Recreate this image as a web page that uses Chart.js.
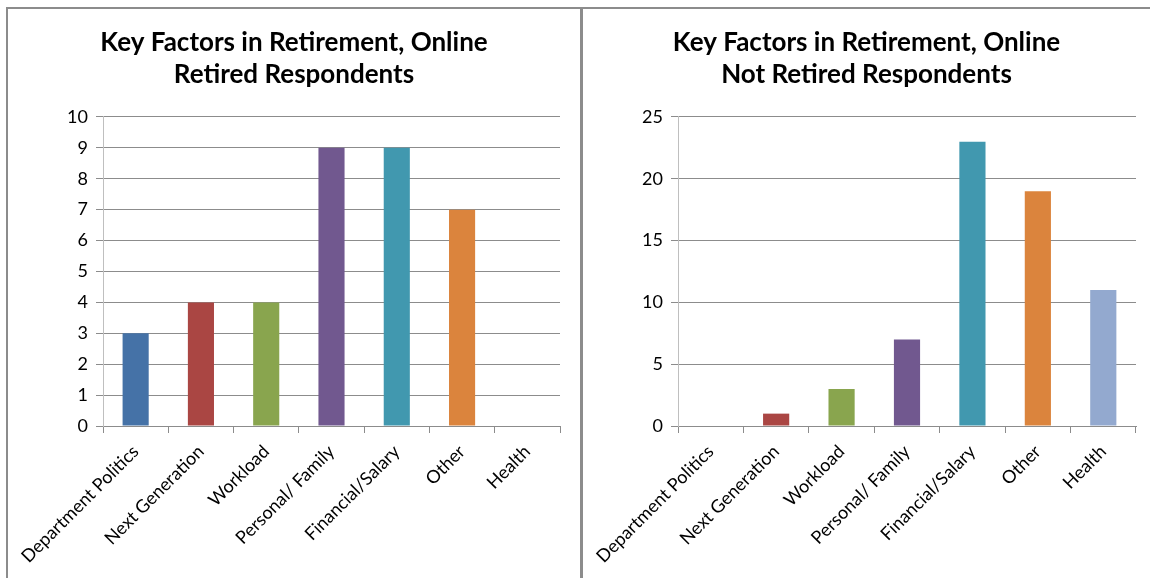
<!DOCTYPE html>
<html lang="en">
<head>
    <meta charset="UTF-8">
    <title>Key Factors in Retirement, Online</title>
    <script src="https://cdn.jsdelivr.net/npm/chart.js"></script>
    <style>
        body { margin: 0; background: #fff; width: 1150px; height: 578px; overflow: hidden; position: relative; }
        .rule { position: absolute; background: #8c8c8c; }
        .panel { position: absolute; }
    </style>
</head>
<body>
    <!-- frame lines -->
    <div class="rule" style="left:6px; top:7px; width:1144px; height:2px;"></div>
    <div class="rule" style="left:6px; top:7px; width:2px; height:571px;"></div>
    <div class="rule" style="left:580px; top:7px; width:3px; height:571px;"></div>

    <div class="panel" style="left:9px; top:9px; width:570px; height:569px;"><canvas id="retiredChart"></canvas></div>
    <div class="panel" style="left:583px; top:9px; width:567px; height:569px;"><canvas id="notRetiredChart"></canvas></div>

    <script>
        const categories = ['Department Politics', 'Next Generation', 'Workload', 'Personal/ Family', 'Financial/Salary', 'Other', 'Health'];
        const retiredValues = [3, 4, 4, 9, 9, 7, 0];
        const notRetiredValues = [0, 1, 3, 7, 23, 19, 11];
        const barColors = ['#4572A7', '#AA4643', '#89A54E', '#71588F', '#4198AF', '#DB843D', '#93A9CF'];

        const FONT = 'Lato, "Open Sans", sans-serif';

        // side padding is symmetric so the title stays centred on the panel
        function makeChart(id, title, values, max, step, axisWidth, pad) {
            return new Chart(document.getElementById(id), {
                type: 'bar',
                data: {
                    labels: categories,
                    datasets: [{
                        data: values,
                        backgroundColor: barColors,
                        categoryPercentage: 1,
                        barPercentage: 0.4
                    }]
                },
                options: {
                    responsive: true,
                    maintainAspectRatio: false,
                    animation: false,
                    layout: { padding: { left: pad, right: pad, top: 0, bottom: 0 } },
                    plugins: {
                        legend: { display: false },
                        tooltip: { enabled: false },
                        title: {
                            display: true,
                            text: title,
                            color: '#000',
                            font: { family: FONT, size: 26, weight: 'bold', lineHeight: 1.23 },
                            padding: { top: 18, bottom: 26 }
                        }
                    },
                    scales: {
                        x: {
                            offset: true,
                            border: { color: '#8c8c8c', width: 1 },
                            grid: { display: true, drawOnChartArea: false, offset: true, color: '#8c8c8c', tickLength: 7 },
                            ticks: { color: '#000', font: { family: FONT, size: 18 }, minRotation: 45, maxRotation: 45, padding: 8 },
                            afterFit: s => { s.height = 152; }
                        },
                        y: {
                            min: 0,
                            max: max,
                            border: { color: '#bfbfbf', width: 1 },
                            grid: { color: '#8c8c8c', tickLength: 7 },
                            ticks: { stepSize: step, color: '#000', font: { family: FONT, size: 18 }, padding: 8 },
                            afterFit: s => { s.width = axisWidth; }
                        }
                    }
                }
            });
        }

        makeChart('retiredChart', ['Key Factors in Retirement, Online', 'Retired Respondents'], retiredValues, 10, 1, 75, 19);
        makeChart('notRetiredChart', ['Key Factors in Retirement, Online', 'Not Retired Respondents'], notRetiredValues, 25, 5, 81, 14);
    </script>
</body>
</html>
